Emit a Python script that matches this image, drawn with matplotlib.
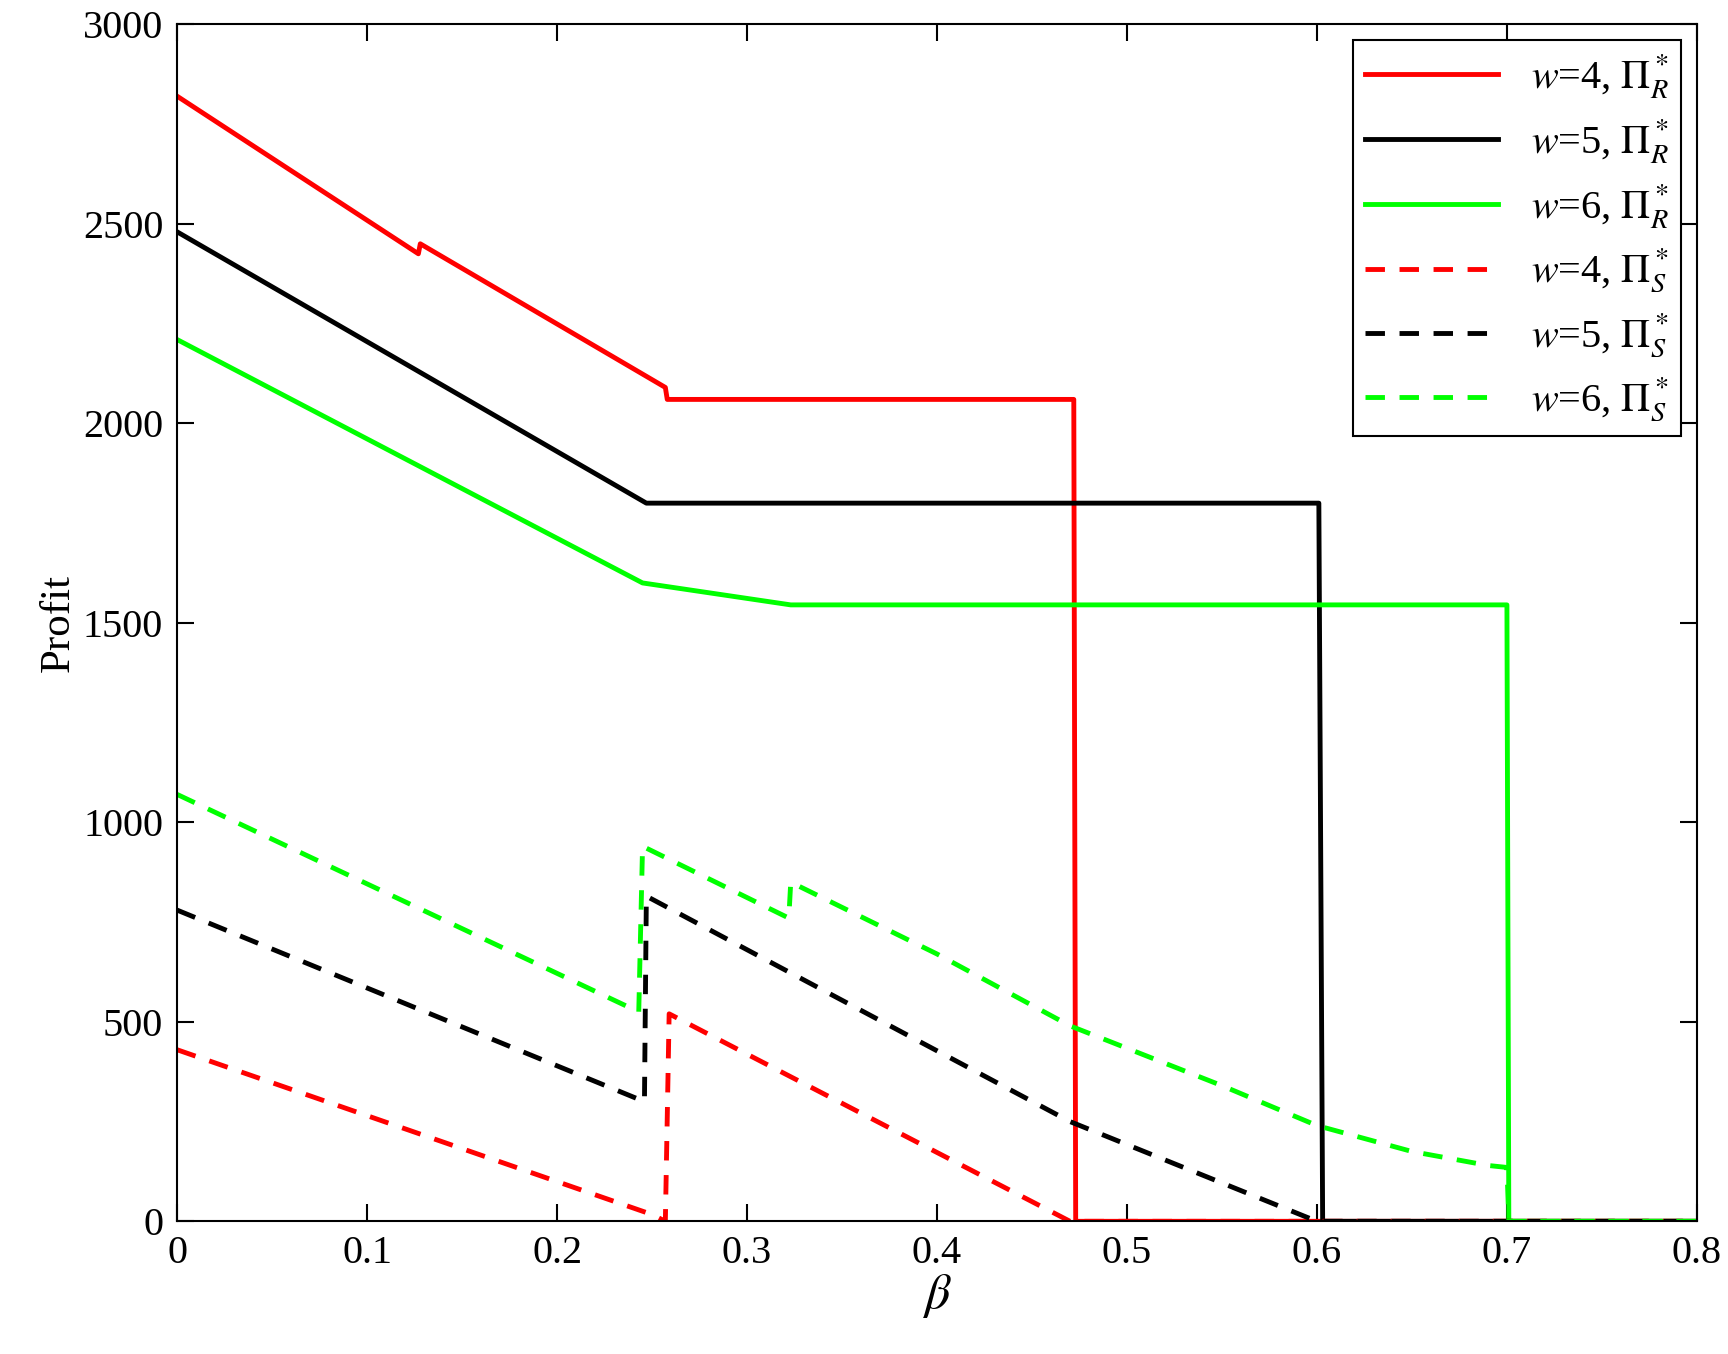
import matplotlib
matplotlib.use("Agg")
import matplotlib.pyplot as plt

plt.rcParams["font.family"] = ["Liberation Serif", "DejaVu Serif"]
plt.rcParams["mathtext.fontset"] = "stix"

# retailer profit, solid lines
r4_x = [0, 0.127, 0.128, 0.257, 0.258, 0.472, 0.473, 0.8]
r4_y = [2820, 2425, 2450, 2090, 2060, 2060, 0, 0]
r5_x = [0, 0.247, 0.601, 0.603, 0.8]
r5_y = [2480, 1800, 1800, 0, 0]
r6_x = [0, 0.245, 0.323, 0.700, 0.701, 0.8]
r6_y = [2210, 1600, 1545, 1545, 0, 0]

# supplier profit, dashed lines
s4_x = [0, 0.25, 0.257, 0.259, 0.47, 0.8]
s4_y = [430, 17, 0, 520, 0, 0]
s5_x = [0, 0.246, 0.247, 0.47, 0.6, 0.8]
s5_y = [780, 300, 815, 250, 0, 0]
s6_x = [0, 0.243, 0.245, 0.322, 0.323, 0.40, 0.47, 0.55, 0.60, 0.65, 0.69, 0.70, 0.701, 0.8]
s6_y = [1070, 525, 940, 760, 850, 670, 490, 340, 240, 175, 140, 135, 0, 0]

fig = plt.figure(figsize=(17.28, 13.54), dpi=100)
ax = fig.add_axes([0.1025, 0.098, 0.8795, 0.884])

red, black, green = "#ff0000", "#000000", "#00ff00"
lw = 3.5
ax.plot(r4_x, r4_y, color=red, lw=lw, label=r"$w$=4, $\Pi_R^*$")
ax.plot(r5_x, r5_y, color=black, lw=lw, label=r"$w$=5, $\Pi_R^*$")
ax.plot(r6_x, r6_y, color=green, lw=lw, label=r"$w$=6, $\Pi_R^*$")
ax.plot(s4_x, s4_y, color=red, lw=lw, ls=(0, (4, 3)), label=r"$w$=4, $\Pi_S^*$")
ax.plot(s5_x, s5_y, color=black, lw=lw, ls=(0, (4, 3)), label=r"$w$=5, $\Pi_S^*$")
ax.plot(s6_x, s6_y, color=green, lw=lw, ls=(0, (4, 3)), label=r"$w$=6, $\Pi_S^*$")

ax.set_xlim(0, 0.8)
ax.set_ylim(0, 3000)
ax.set_xticks([0, 0.1, 0.2, 0.3, 0.4, 0.5, 0.6, 0.7, 0.8])
ax.set_xticklabels(["0", "0.1", "0.2", "0.3", "0.4", "0.5", "0.6", "0.7", "0.8"])
ax.set_yticks(range(0, 3001, 500))
ax.tick_params(direction="in", top=True, right=True, labelsize=29, length=12, width=1.5, pad=10)
for s in ax.spines.values():
    s.set_linewidth(1.5)
ax.set_xlabel(r"$\beta$", fontsize=36, labelpad=0)
ax.set_ylabel("Profit", fontsize=31, labelpad=4)

leg = ax.legend(loc="upper right", fontsize=29, fancybox=False, edgecolor="black",
                handlelength=3.3, borderpad=0.3, labelspacing=0.4, framealpha=1,
                borderaxespad=0.4)
leg.get_frame().set_linewidth(1.5)

fig.savefig("out.png", dpi=100)
